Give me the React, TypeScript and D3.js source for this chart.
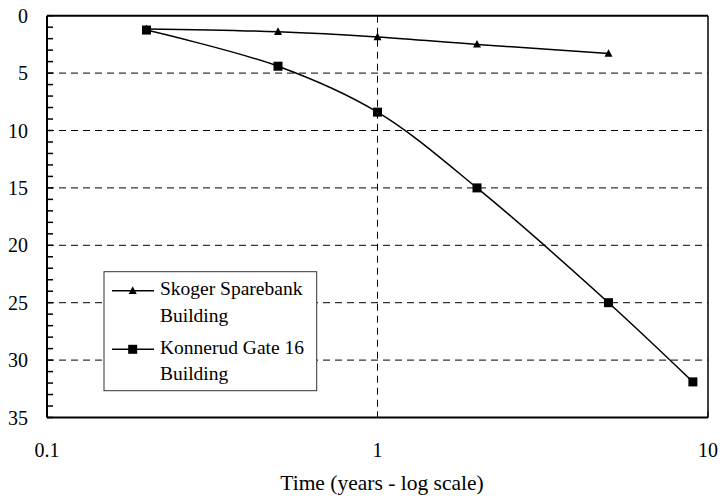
import React from "react";
import * as d3 from "d3";

// Settlement (mm) vs time (years, log scale) for two buildings
const timeYears = [0.2, 0.5, 1, 2, 5];
const skogerSettlement = [1.15, 1.4, 1.85, 2.5, 3.3];
const konnerudTime = [0.2, 0.5, 1, 2, 5, 9];
const konnerudSettlement = [1.25, 4.4, 8.4, 15.0, 25.0, 31.9];

const xTickValues = [0.1, 1, 10];
const xTickLabels = ["0.1", "1", "10"];
const yTickValues = [0, 5, 10, 15, 20, 25, 30, 35];
const yGridValues = [5, 10, 15, 20, 25, 30];
const xGridValues = [1];

const seriesNames = [["Skoger Sparebank", "Building"], ["Konnerud Gate 16", "Building"]];
const axisTitle = "Time (years - log scale)";

const W = 720;
const H = 496;
const plot = { left: 47, right: 708, top: 15.7, bottom: 417.5 };
const SERIF = '"Liberation Serif", "Times New Roman", Tinos';

export default function App() {
  const x = d3.scaleLog().domain([0.1, 10]).range([plot.left, plot.right]);
  const y = d3.scaleLinear().domain([0, 35]).range([plot.top, plot.bottom]);

  const line = d3
    .line<[number, number]>()
    .x((d) => x(d[0]))
    .y((d) => y(d[1]))
    .curve(d3.curveCatmullRom.alpha(0.5));

  const skoger: [number, number][] = timeYears.map((t, i) => [t, skogerSettlement[i]]);
  const konnerud: [number, number][] = konnerudTime.map((t, i) => [t, konnerudSettlement[i]]);

  const tri = (cx: number, cy: number, s = 8) =>
    `M${cx},${cy - s * 0.55}L${cx + s / 2},${cy + s * 0.4}L${cx - s / 2},${cy + s * 0.4}Z`;

  const minorY = d3.range(0, 36);
  const legend = { x: 104, y: 271.7, w: 212.7, h: 119 };

  return (
    <svg
      width={W}
      height={H}
      style={{ position: "absolute", left: 0, top: 0, background: "#fff", fontFamily: SERIF }}
    >
      <rect x={0} y={0} width={W} height={H} fill="#fff" />

      {/* dashed gridlines */}
      {yGridValues.map((v) => (
        <line
          key={"gy" + v}
          x1={plot.left}
          x2={plot.right}
          y1={y(v)}
          y2={y(v)}
          stroke="#000"
          strokeWidth={1}
          strokeDasharray="7,5"
        />
      ))}
      {xGridValues.map((v) => (
        <line
          key={"gx" + v}
          x1={x(v)}
          x2={x(v)}
          y1={plot.top}
          y2={plot.bottom}
          stroke="#000"
          strokeWidth={1}
          strokeDasharray="7,5"
        />
      ))}

      {/* inward minor ticks on the y axis */}
      {minorY.map((v) => (
        <line
          key={"my" + v}
          x1={plot.left}
          x2={plot.left + 6}
          y1={y(v)}
          y2={y(v)}
          stroke="#000"
          strokeWidth={1.5}
        />
      ))}
      {xTickValues.map((v) => (
        <line
          key={"tx" + v}
          x1={x(v)}
          x2={x(v)}
          y1={plot.bottom}
          y2={plot.bottom - 6}
          stroke="#000"
          strokeWidth={1}
        />
      ))}

      {/* plot frame */}
      <line x1={plot.left} x2={plot.right} y1={plot.top} y2={plot.top} stroke="#000" strokeWidth={2} />
      <line x1={plot.left} x2={plot.right} y1={plot.bottom} y2={plot.bottom} stroke="#000" strokeWidth={2} />
      <line x1={plot.left} x2={plot.left} y1={plot.top} y2={plot.bottom} stroke="#000" strokeWidth={2} />
      <line x1={plot.right} x2={plot.right} y1={plot.top} y2={plot.bottom} stroke="#000" strokeWidth={1.5} />

      {/* series */}
      <path d={line(skoger) ?? ""} fill="none" stroke="#000" strokeWidth={1.5} />
      <path d={line(konnerud) ?? ""} fill="none" stroke="#000" strokeWidth={1.5} />
      {skoger.map((d, i) => (
        <path key={"st" + i} d={tri(x(d[0]), y(d[1]))} fill="#000" />
      ))}
      {konnerud.map((d, i) => (
        <rect key={"ks" + i} x={x(d[0]) - 4.5} y={y(d[1]) - 4.5} width={9} height={9} fill="#000" />
      ))}

      {/* tick labels */}
      {yTickValues.map((v) => (
        <text key={"ly" + v} x={28} y={y(v)} dy="0.35em" textAnchor="end" fontSize={20} fill="#000" fontFamily={SERIF} style={{ fontFamily: SERIF }}>
          {v}
        </text>
      ))}
      {xTickValues.map((v, i) => (
        <text key={"lx" + v} x={x(v)} y={457} textAnchor="middle" fontSize={20} fill="#000" fontFamily={SERIF} style={{ fontFamily: SERIF }}>
          {xTickLabels[i]}
        </text>
      ))}
      <text x={382} y={490} textAnchor="middle" fontSize={21.5} fill="#000" fontFamily={SERIF} style={{ fontFamily: SERIF }}>
        {axisTitle}
      </text>

      {/* legend */}
      <rect x={legend.x} y={legend.y} width={legend.w} height={legend.h} fill="#fff" stroke="#333" strokeWidth={1} />
      {[290.7, 349.3].map((ly, i) => (
        <g key={"lg" + i}>
          <line x1={112} x2={154} y1={ly} y2={ly} stroke="#000" strokeWidth={1.5} />
          {i === 0 ? (
            <path d={tri(132.7, ly)} fill="#000" />
          ) : (
            <rect x={132.7 - 4.5} y={ly - 4.5} width={9} height={9} fill="#000" />
          )}
          <text x={160} y={ly + 4.5} fontSize={19.5} fill="#000" fontFamily={SERIF} style={{ fontFamily: SERIF }}>
            {seriesNames[i][0]}
          </text>
          <text x={160} y={ly + 31} fontSize={19.5} fill="#000" fontFamily={SERIF} style={{ fontFamily: SERIF }}>
            {seriesNames[i][1]}
          </text>
        </g>
      ))}
    </svg>
  );
}
